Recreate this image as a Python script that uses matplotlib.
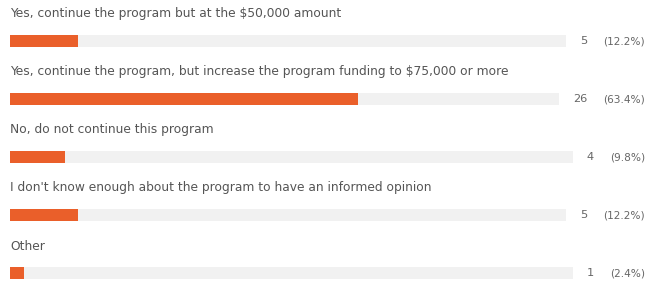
import matplotlib
matplotlib.use("Agg")
import matplotlib.pyplot as plt

answers = [
    "Yes, continue the program but at the $50,000 amount",
    "Yes, continue the program, but increase the program funding to $75,000 or more",
    "No, do not continue this program",
    "I don't know enough about the program to have an informed opinion",
    "Other",
]
counts = [5, 26, 4, 5, 1]
percents = [12.2, 63.4, 9.8, 12.2, 2.4]

orange = "#EA5F2A"
track = "#F1F1F1"
textColor = "#555555"

W, H = 649, 283
plt.rcParams["font.family"] = ["DejaVu Sans"]

fig = plt.figure(figsize=(W / 100, H / 100), dpi=100)
ax = fig.add_axes([0, 0, 1, 1])
ax.set_xlim(0, W)
ax.set_ylim(H, 0)
ax.axis("off")

x0 = 10
barH = 12
rowTop = 41
rowStep = 58

fig.canvas.draw()
renderer = fig.canvas.get_renderer()

for i, (answer, n, pct) in enumerate(zip(answers, counts, percents)):
    y = rowTop + i * rowStep
    ax.text(x0, y - 27, answer, fontsize=8.8, color=textColor, va="center", ha="left")

    pctText = ax.text(645, y, f"({pct}%)", fontsize=7.6, color="#666666",
                      va="center", ha="right")
    pctLeft = pctText.get_window_extent(renderer).x0
    cntText = ax.text(pctLeft - 16, y, str(n), fontsize=8.2, color="#666666",
                      va="center", ha="right")
    cntLeft = cntText.get_window_extent(renderer).x0
    trackEnd = cntLeft - 14

    ax.barh(y, trackEnd - x0, left=x0, height=barH, color=track, linewidth=0)
    ax.barh(y, (trackEnd - x0) * pct / 100, left=x0, height=barH,
            color=orange, linewidth=0)

fig.savefig("out.png", dpi=100)
